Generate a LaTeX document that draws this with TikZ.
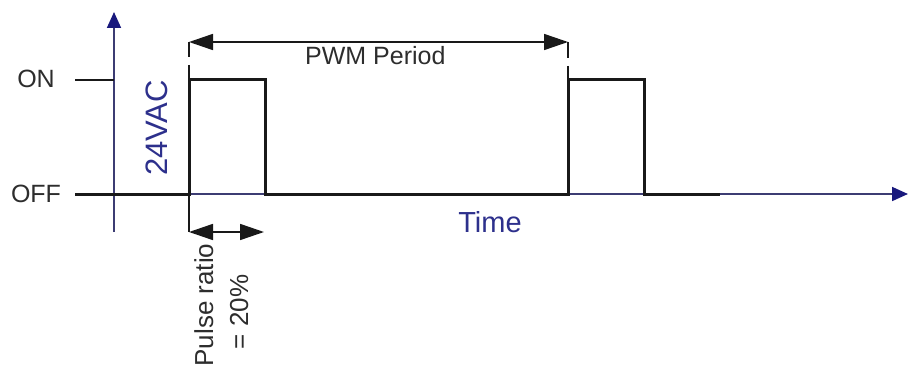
\documentclass[tikz,border=0pt]{standalone}
\usepackage{fontspec}
\setmainfont{Liberation Sans}
\usetikzlibrary{arrows.meta}
\definecolor{navy}{RGB}{25,25,125}
\definecolor{axisline}{RGB}{60,60,115}
\definecolor{labelblue}{RGB}{45,48,140}
\definecolor{ink}{RGB}{25,25,25}
\definecolor{txt}{RGB}{45,45,45}
\begin{document}
\begin{tikzpicture}[x=1pt,y=-1pt,
  wave/.style={line width=3pt, draw=ink},
  axisarrow/.style={line width=1.8pt, draw=axisline, -{Triangle[length=16pt,width=14pt,fill=navy,color=navy]}},
  thin/.style={line width=1.7pt, draw=ink},
  dimline/.style={line width=1.6pt, draw=ink, {Triangle[length=24pt,width=16pt]}-{Triangle[length=24pt,width=16pt]}},
  lbl/.style={font=\fontsize{25}{30}\selectfont, text=txt, inner sep=0pt},
]
\useasboundingbox (0,0) rectangle (908,369);
% coordinates
\coordinate (ybot) at (114,232);
\coordinate (ytop) at (114,12);
\coordinate (o) at (114,194);
\coordinate (xend) at (908,194);
\coordinate (onL) at (75,80);
\coordinate (onR) at (114,80);
\coordinate (offL) at (75,194);
\coordinate (r1b) at (189,194);
\coordinate (r1t) at (189,80);
\coordinate (f1t) at (265,80);
\coordinate (f1b) at (265,194);
\coordinate (r2b) at (568,194);
\coordinate (r2t) at (568,80);
\coordinate (f2t) at (644,80);
\coordinate (f2b) at (644,194);
\coordinate (wend) at (720,194);
\coordinate (p1) at (189,42);
\coordinate (p2) at (568,42);
\coordinate (g1a) at (189,57);
\coordinate (g1b) at (189,65);
\coordinate (g2a) at (568,58);
\coordinate (g2b) at (568,66);
\coordinate (q1) at (189,232);
\coordinate (q2) at (264,232);
% axes
\draw[axisarrow] (ybot) -- (ytop);
\draw[axisarrow] (o) -- (xend);
% ON tick
\draw[thin] (onL) -- (onR);
% waveform
\draw[wave] (offL) -- (r1b) -- (r1t) -- (f1t) -- (f1b) -- (r2b) -- (r2t) -- (f2t) -- (f2b) -- (wend);
% extension lines
\draw[thin] (p1) -- (g1a);
\draw[thin] (g1b) -- (r1t);
\draw[thin] (p2) -- (g2a);
\draw[thin] (g2b) -- (r2t);
\draw[thin] (r1b) -- (q1);
% dimension arrows
\draw[dimline] (p1) -- (p2);
\draw[dimline] (q1) -- (q2);
% labels
\node[lbl, anchor=base] (on) at (36,88) {ON};
\node[lbl, anchor=base] (off) at (36,202) {OFF};
\node[lbl, anchor=base west] (pwm) at (305,65) {PWM Period};
\node[font=\fontsize{29}{34}\selectfont, text=labelblue, inner sep=0pt, anchor=base] (time) at (490,232) {Time};
\node[font=\fontsize{31}{36}\selectfont, text=labelblue, inner sep=0pt, anchor=base, rotate=90] (vac) at (167,128) {24VAC};
\node[lbl, font=\fontsize{26}{30}\selectfont, anchor=base, rotate=90] (pr1) at (213,305) {Pulse ratio};
\node[lbl, font=\fontsize{26}{30}\selectfont, anchor=base, rotate=90] (pr2) at (248,312) {= 20\%};
\end{tikzpicture}
\end{document}
